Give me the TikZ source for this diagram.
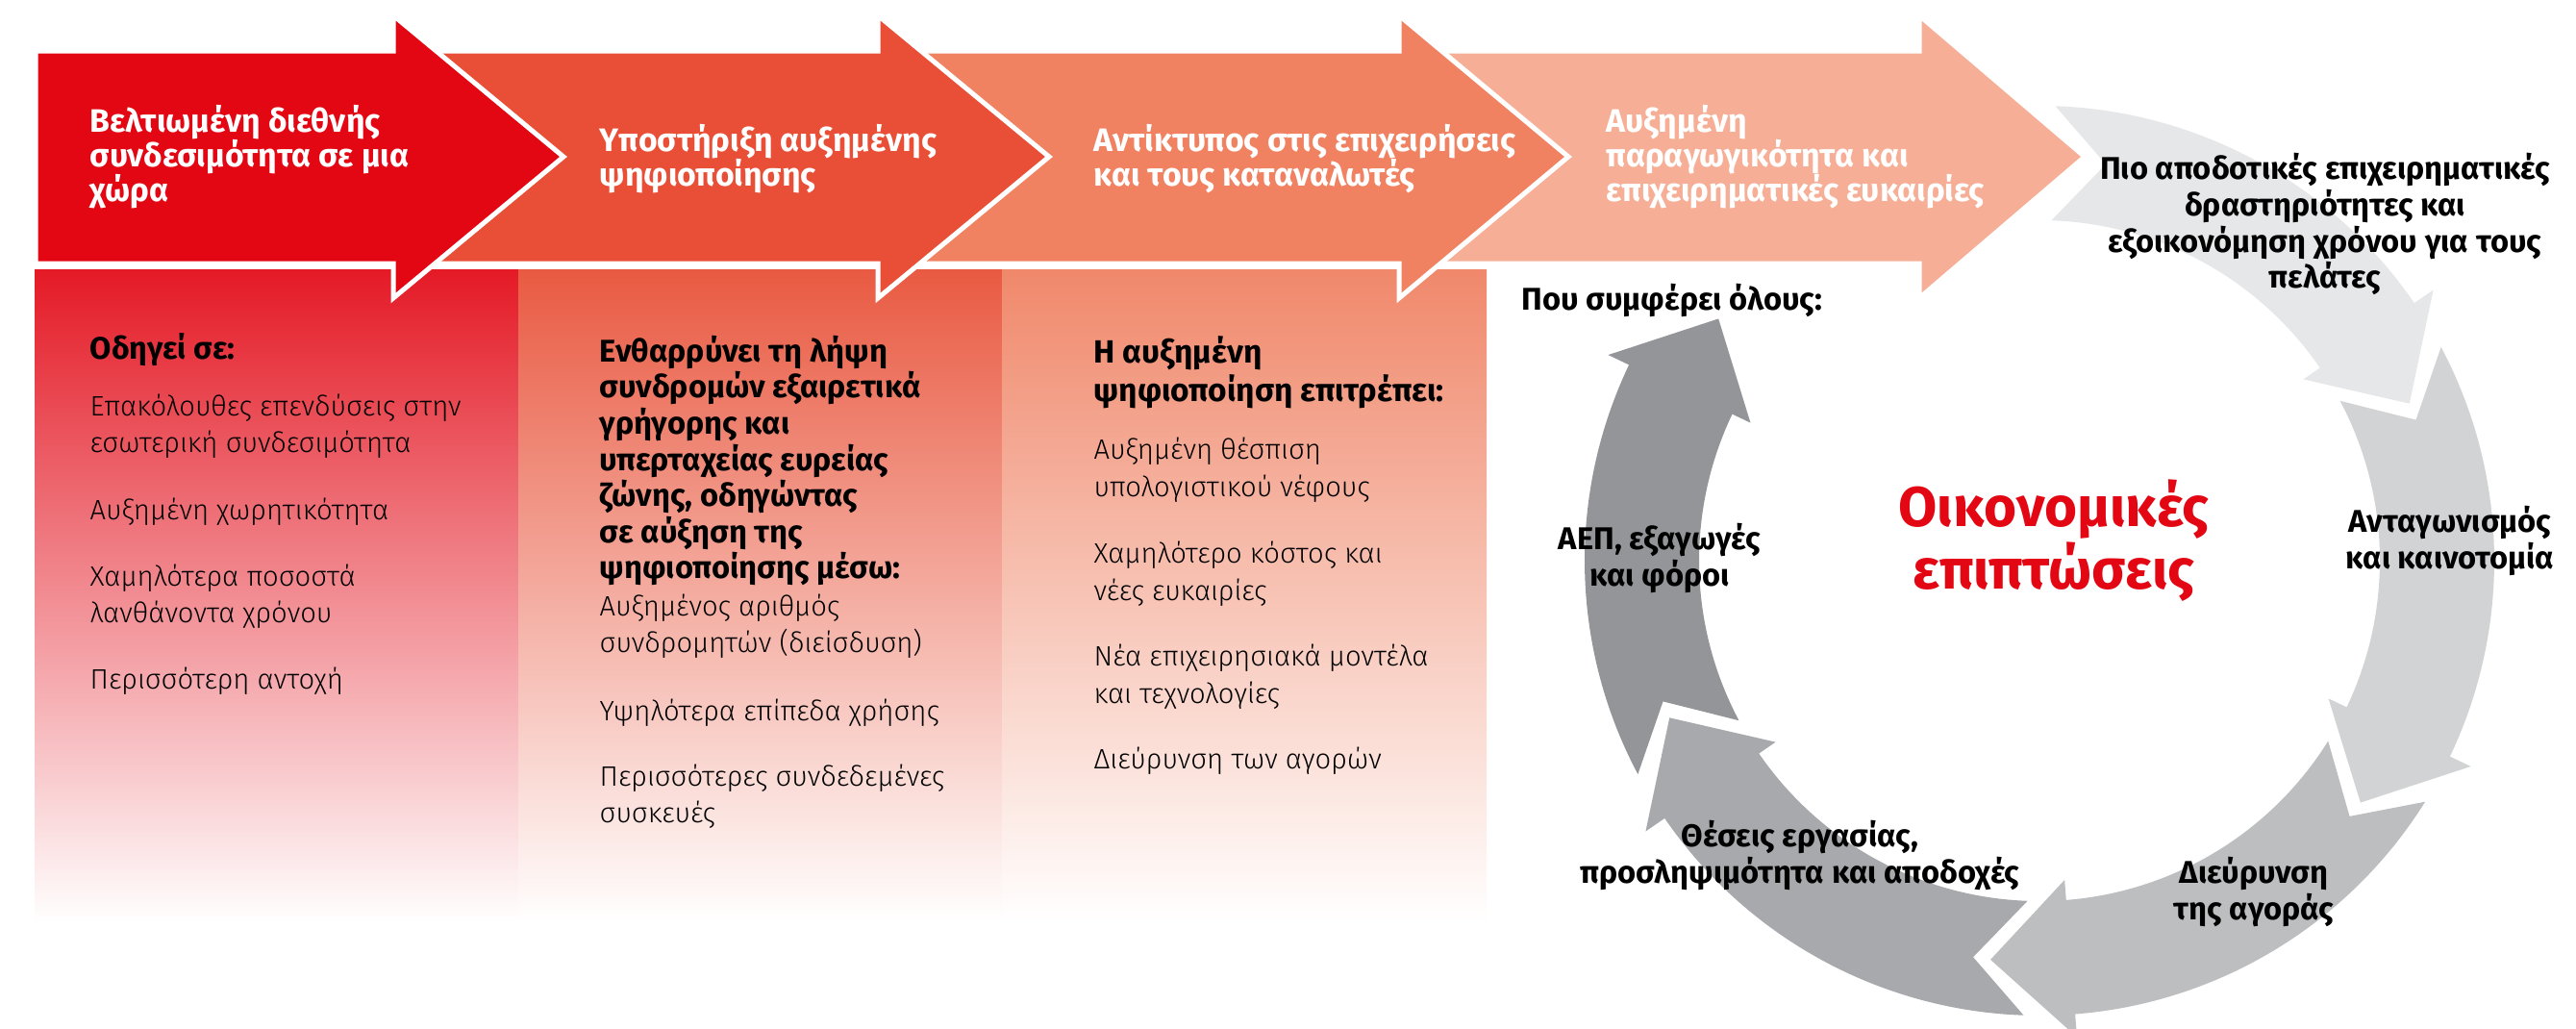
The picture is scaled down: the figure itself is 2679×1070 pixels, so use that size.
\documentclass[tikz,border=0pt]{standalone}
\usepackage{fontspec}
\setmainfont{Fira Sans}
\newfontfamily\lightsans{Fira Sans Light}

\definecolor{vfred}{RGB}{227,6,19}
\definecolor{chevtwo}{RGB}{232,79,54}
\definecolor{chevthree}{RGB}{240,130,98}
\definecolor{chevfour}{RGB}{246,175,150}
\definecolor{panone}{RGB}{228,26,38}
\definecolor{pantwo}{RGB}{233,90,66}
\definecolor{panthree}{RGB}{240,136,107}
\definecolor{ringa}{RGB}{230,231,232}
\definecolor{ringb}{RGB}{209,211,212}
\definecolor{ringc}{RGB}{188,190,192}
\definecolor{ringd}{RGB}{167,169,172}
\definecolor{ringe}{RGB}{147,149,152}

\newcommand{\headfont}{\bfseries\fontsize{9.6}{10.3}\selectfont}
\newcommand{\bodyfont}{\lightsans\fontsize{8.3}{10.8}\selectfont}

\begin{document}
\begin{tikzpicture}[x=0.1mm, y=-0.1mm,
  chevron/.style={draw=white, line width=0.5mm, line join=miter},
  arrowtext/.style={anchor=west, align=left, inner sep=0pt, text=white, font=\headfont},
  coltext/.style={anchor=west, align=left, inner sep=0pt, font=\bodyfont},
  colhead/.style={coltext, font=\bfseries\fontsize{9.2}{10.7}\selectfont},
  ringtext/.style={align=center, inner sep=0pt, font=\bfseries\fontsize{9.3}{10.8}\selectfont}]
\useasboundingbox (0,0) rectangle (2679,1070);

% panels fading to white
\shade[top color=panone, bottom color=white] (36,280) rectangle (539,960);
\shade[top color=pantwo, bottom color=white] (539,280) rectangle (1042,960);
\shade[top color=panthree, bottom color=white] (1042,280) rectangle (1546,960);

% cycle of five block arcs, clockwise
\begin{scope}[shift={(2121,583)}]
\foreach \a/\col in {-88/ringa, -28/ringb, 32/ringc, 92/ringd, 152/ringe}
  \fill[\col] (\a:473) arc[start angle=\a, end angle=\a+53.5, radius=473]
    -- ({\a+53.5}:497) -- ({\a+65}:418) -- ({\a+53.5}:333) -- ({\a+53.5}:354)
    arc[start angle=\a+53.5, end angle=\a, radius=354] -- ({\a+7.5}:418) -- cycle;
\end{scope}

% chevrons, last one first
\filldraw[chevron, fill=chevfour] (1420,53) -- (1996,53) -- (1996,16) -- (2168,163)
  -- (1996,310) -- (1996,274) -- (1420,274) -- cycle;
\filldraw[chevron, fill=chevthree] (880,53) -- (1455,53) -- (1455,16) -- (1631,163)
  -- (1455,310) -- (1455,274) -- (880,274) -- cycle;
\filldraw[chevron, fill=chevtwo] (380,53) -- (913,53) -- (913,16) -- (1091,163)
  -- (913,310) -- (913,274) -- (380,274) -- cycle;
\filldraw[chevron, fill=vfred] (37,53) -- (409,53) -- (409,16) -- (586,163)
  -- (409,310) -- (409,274) -- (37,274) -- cycle;

\node[arrowtext] (step1) at (93,163) {Βελτιωμένη διεθνής\\συνδεσιμότητα σε μια\\χώρα};
\node[arrowtext] (step2) at (623,165) {Υποστήριξη αυξημένης\\ψηφιοποίησης};
\node[arrowtext] (step3) at (1137,165) {Αντίκτυπος στις επιχειρήσεις\\και τους καταναλωτές};
\node[arrowtext] (step4) at (1670,163) {Αυξημένη\\παραγωγικότητα και\\επιχειρηματικές ευκαιρίες};

% first column
\node[colhead] (leads) at (93,364) {Οδηγεί σε:};
\node[coltext] (invest) at (93,443) {Επακόλουθες επενδύσεις στην\\εσωτερική συνδεσιμότητα};
\node[coltext] (capacity) at (93,532) {Αυξημένη χωρητικότητα};
\node[coltext] (latency) at (93,620) {Χαμηλότερα ποσοστά\\λανθάνοντα χρόνου};
\node[coltext] (resil) at (93,708) {Περισσότερη αντοχή};

% second column
\node[colhead, font=\bfseries\fontsize{9.3}{10.7}\selectfont] (encour) at (623,479) {Ενθαρρύνει τη λήψη\\συνδρομών εξαιρετικά\\γρήγορης και\\υπερταχείας ευρείας\\ζώνης, οδηγώντας\\σε αύξηση της\\ψηφιοποίησης μέσω:};
\node[coltext] (subs) at (623,651) {Αυξημένος αριθμός\\συνδρομητών (διείσδυση)};
\node[coltext] (usage) at (623,741) {Υψηλότερα επίπεδα χρήσης};
\node[coltext] (devices) at (623,828) {Περισσότερες συνδεδεμένες\\συσκευές};

% third column
\node[colhead, font=\bfseries\fontsize{9.5}{11.4}\selectfont] (enables) at (1137,387) {Η αυξημένη\\ψηφιοποίηση επιτρέπει:};
\node[coltext, font=\bodyfont\fontsize{8.3}{11.2}\selectfont] (cloud) at (1137,489) {Αυξημένη θέσπιση\\υπολογιστικού νέφους};
\node[coltext, font=\bodyfont\fontsize{8.3}{11.2}\selectfont] (cost) at (1137,597) {Χαμηλότερο κόστος και\\νέες ευκαιρίες};
\node[coltext, font=\bodyfont\fontsize{8.3}{11.2}\selectfont] (models) at (1137,704) {Νέα επιχειρησιακά μοντέλα\\και τεχνολογίες};
\node[coltext] (markets) at (1137,791) {Διεύρυνση των αγορών};

% labels round the cycle
\node[colhead, font=\bfseries\fontsize{9.3}{10.7}\selectfont] (benefit) at (1582,312) {Που συμφέρει όλους:};
\node[ringtext] (effic) at (2418,233) {Πιο αποδοτικές επιχειρηματικές\\δραστηριότητες και\\εξοικονόμηση χρόνου για τους\\πελάτες};
\node[ringtext, text=vfred, font=\bfseries\fontsize{16.6}{15.4}\selectfont] (econ) at (2136,562) {Οικονομικές\\επιπτώσεις};
\node[ringtext] (compet) at (2548,562) {Ανταγωνισμός\\και καινοτομία};
\node[ringtext] (gdp) at (1726,580) {ΑΕΠ, εξαγωγές\\και φόροι};
\node[ringtext] (expand) at (2344,927) {Διεύρυνση\\της αγοράς};
\node[ringtext] (jobs) at (1872,889) {Θέσεις εργασίας,\\προσληψιμότητα και αποδοχές};
\end{tikzpicture}
\end{document}
